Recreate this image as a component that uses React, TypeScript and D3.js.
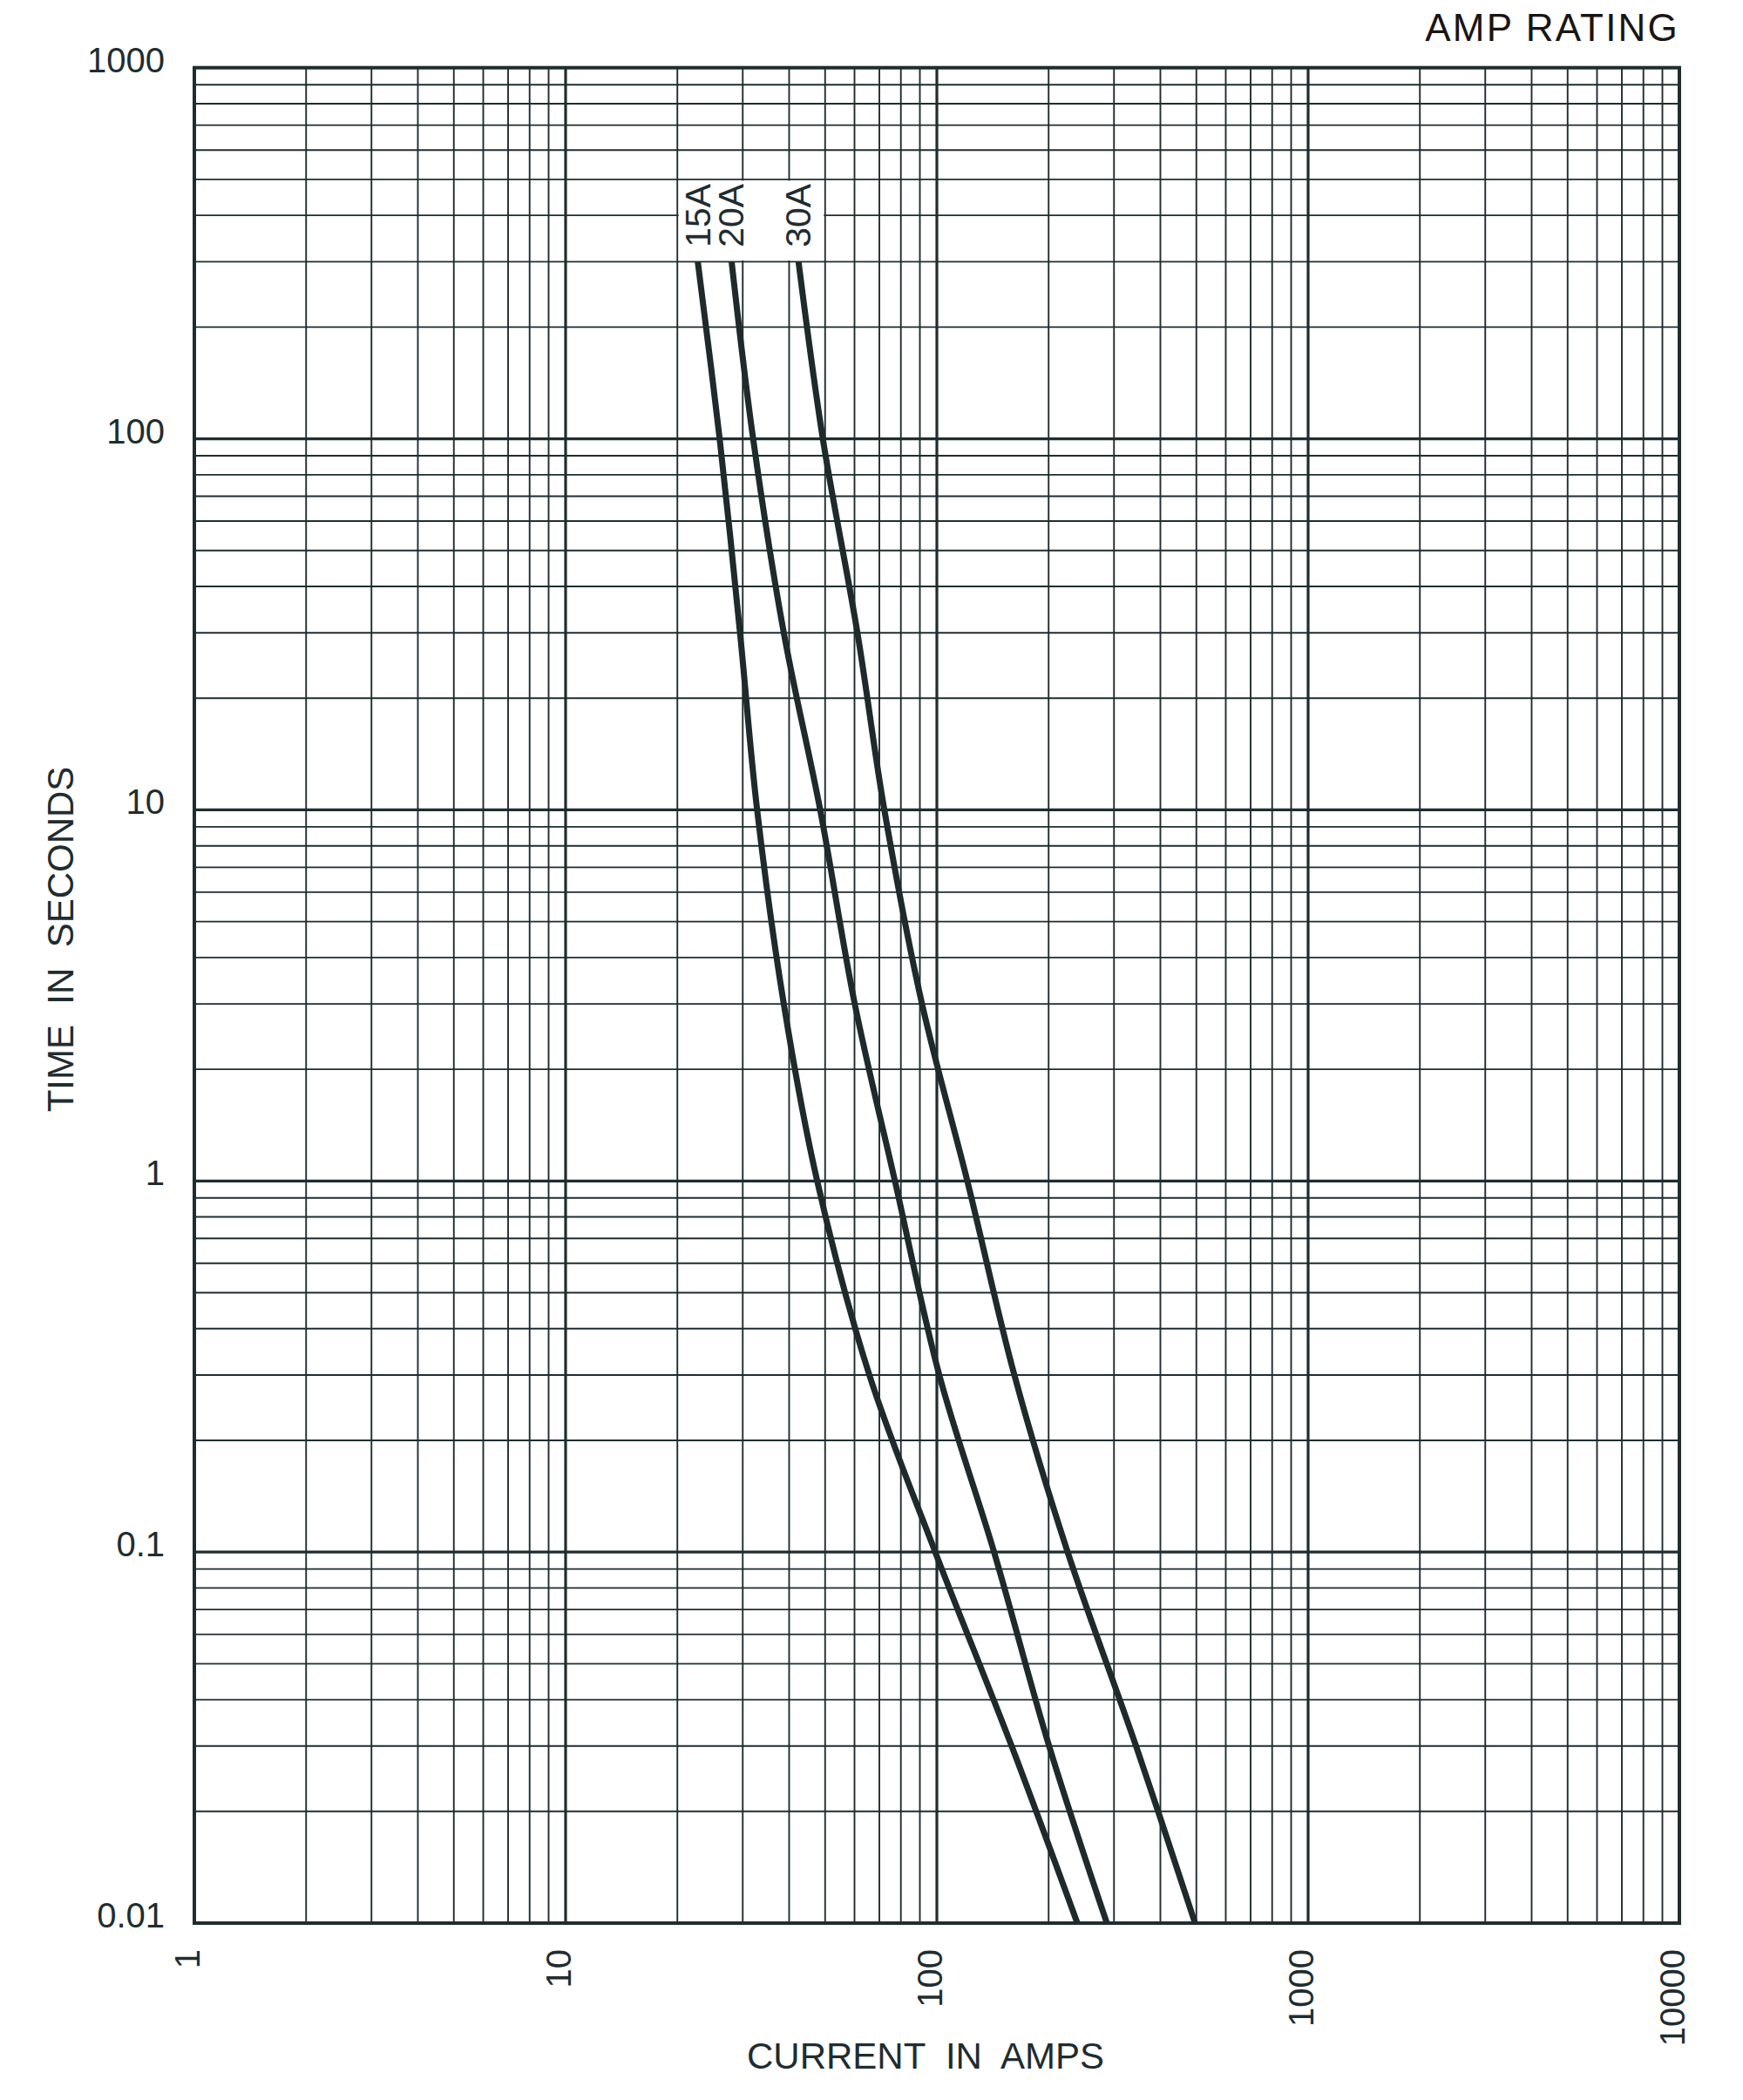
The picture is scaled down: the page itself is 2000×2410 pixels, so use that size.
import React from "react";
import * as d3 from "d3";

const X_TICKS = [1, 10, 100, 1000, 10000];
const Y_TICKS = [1000, 100, 10, 1, 0.1, 0.01];
const Y_TICK_LABELS = ["1000", "100", "10", "1", "0.1", "0.01"];
const TIMES = [300, 100, 30, 10, 3, 1, 0.3, 0.1, 0.03, 0.01];
const AMPS_15A = [22.7, 26.0, 29.5, 32.8, 38.7, 47.6, 65.8, 99, 159, 239];
const AMPS_20A = [28.0, 32.0, 38.7, 48.5, 60.1, 77.1, 101.5, 142.6, 200.6, 287];
const AMPS_30A = [42.4, 49.3, 61.1, 72.2, 91.2, 120.8, 161.7, 225, 344, 496];
const RATINGS = ["15A", "20A", "30A"];
const SERIES = [AMPS_15A, AMPS_20A, AMPS_30A];

const INK = "#1f2d30";
const FONT = "'Liberation Sans', Arial, sans-serif";

export default function App() {
  const W = 2000, H = 2410;
  const x = d3.scaleLog().domain([1, 10000]).range([223, 1927]);
  const y = d3.scaleLog().domain([0.01, 1000]).range([2207, 77.7]);
  const [x0, x1] = x.range();
  const [y0, y1] = y.range();

  const vMinor: number[] = [];
  for (let d = 1; d < 10000; d *= 10) for (let m = 2; m <= 9; m++) vMinor.push(d * m);
  const hMinor: number[] = [];
  for (let d = 0.01; d < 999; d *= 10) for (let m = 2; m <= 9; m++) hMinor.push(+(d * m).toPrecision(3));

  const line = d3
    .line<[number, number]>()
    .x((p) => x(p[0]))
    .y((p) => y(p[1]))
    .curve(d3.curveCatmullRom.alpha(0.5));

  return (
    <svg width={W} height={H} style={{ position: "absolute", left: 0, top: 0, background: "#fff" }} fontFamily={FONT}>
      <rect x={0} y={0} width={W} height={H} fill="#fff" />
      {vMinor.map((v) => (
        <line key={"v" + v} x1={x(v)} x2={x(v)} y1={y1} y2={y0} stroke={INK} strokeWidth={1.9} />
      ))}
      {hMinor.map((v) => (
        <line key={"h" + v} x1={x0} x2={x1} y1={y(v)} y2={y(v)} stroke={INK} strokeWidth={1.9} />
      ))}
      {X_TICKS.slice(1, -1).map((v) => (
        <line key={"vm" + v} x1={x(v)} x2={x(v)} y1={y1} y2={y0} stroke={INK} strokeWidth={3.2} />
      ))}
      {Y_TICKS.slice(1, -1).map((v) => (
        <line key={"hm" + v} x1={x0} x2={x1} y1={y(v)} y2={y(v)} stroke={INK} strokeWidth={3.2} />
      ))}
      <rect x={x0} y={y1} width={x1 - x0} height={y0 - y1} fill="none" stroke={INK} strokeWidth={4} />

      {/* white box behind curve labels */}
      <rect x={x(20) + 1.5} y={y(500) + 1.5} width={x(50) - x(20) - 3} height={y(300) - y(500) - 3} fill="#fff" />

      {SERIES.map((s, i) => (
        <path
          key={RATINGS[i]}
          d={line(s.map((a, k) => [a, TIMES[k]] as [number, number])) || ""}
          fill="none"
          stroke="#1e2a2c"
          strokeWidth={7}
          strokeLinecap="butt"
        />
      ))}

      {SERIES.map((s, i) => (
        <text
          key={"lab" + RATINGS[i]}
          transform={`translate(${x(s[0])},${y(500) + 5}) rotate(-90)`}
          textAnchor="end"
          dominantBaseline="central"
          fontSize={41}
          fill={INK}
        >
          {RATINGS[i]}
        </text>
      ))}

      {Y_TICKS.map((v, i) => (
        <text key={"yt" + v} x={189} y={y(v) + 5} textAnchor="end" fontSize={40} fill={INK}>
          {Y_TICK_LABELS[i]}
        </text>
      ))}
      {X_TICKS.map((v) => (
        <text
          key={"xt" + v}
          transform={`translate(${x(v) - 8},2237) rotate(-90)`}
          textAnchor="end"
          dominantBaseline="central"
          fontSize={40}
          fill={INK}
        >
          {String(v)}
        </text>
      ))}

      <text x={1062} y={2374} textAnchor="middle" fontSize={42} fill={INK} style={{ whiteSpace: "pre" }}>
        {"CURRENT  IN  AMPS"}
      </text>
      <text
        transform="translate(69,1078) rotate(-90)"
        textAnchor="middle"
        dominantBaseline="central"
        fontSize={42}
        fill={INK}
        style={{ whiteSpace: "pre" }}
      >
        {"TIME  IN  SECONDS"}
      </text>
      <text x={1927} y={46.5} textAnchor="end" fontSize={44} letterSpacing={2.2} fill="#1a1515">
        AMP RATING
      </text>
    </svg>
  );
}
